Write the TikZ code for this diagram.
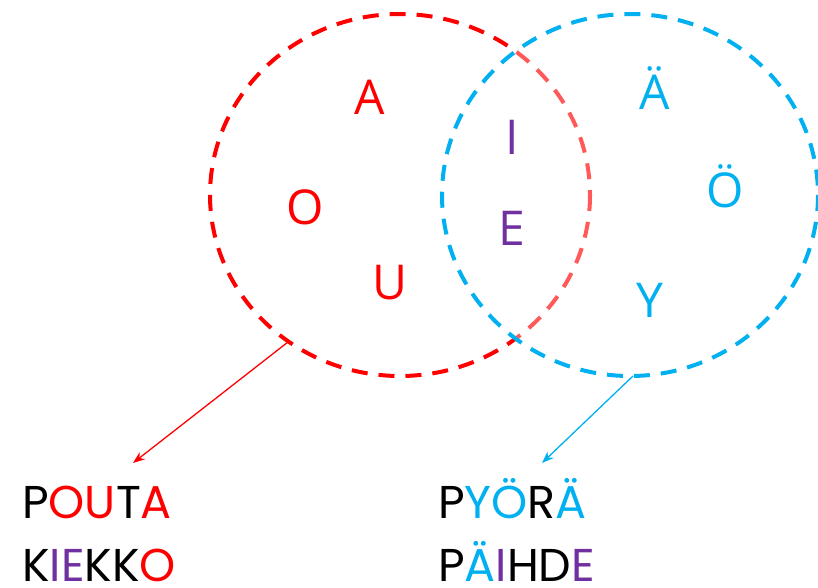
\documentclass[tikz,border=0pt]{standalone}
\usepackage{fontspec}
\setmainfont{Open Sans}
\newfontfamily\wordfont{Poppins}
\usetikzlibrary{arrows.meta}
\definecolor{vred}{HTML}{FF0000}
\definecolor{vblue}{HTML}{00B0F0}
\definecolor{vpurple}{HTML}{7030A0}
\tikzset{
  setline/.style={line width=4pt, dash pattern=on 16pt off 11pt},
  letter/.style={font=\fontsize{48}{48}\selectfont, inner sep=0pt},
  word/.style={font=\wordfont\fontsize{46}{46}\selectfont, inner sep=0pt, text depth=0pt, anchor=base west},
  pointer/.style={line width=1.3pt, -{Stealth[length=12pt,width=9pt]}}
}
\begin{document}
\begin{tikzpicture}[x=1pt,y=-1pt]
\useasboundingbox (0,0) rectangle (818,588);
% circles
\draw[setline, vred] (400,195) ellipse [x radius=190, y radius=181];
\fill[white, opacity=0.35] (630,195) ellipse [x radius=188, y radius=181];
\draw[setline, vblue] (630,195) ellipse [x radius=188, y radius=181];
% letters
\node[letter, text=vred] (la) at (370,97) {A};
\node[letter, text=vred] (lo) at (305,207) {O};
\node[letter, text=vred] (lu) at (390,283) {U};
\node[letter, text=vpurple] (li) at (512,137) {I};
\node[letter, text=vpurple] (le) at (512,228) {E};
\node[letter, text=vblue] (lae) at (655,88) {Ä};
\node[letter, text=vblue] (loe) at (725,186) {Ö};
\node[letter, text=vblue] (ly) at (650,300) {Y};
% words
\node[word] (pouta) at (22,518) {P\textcolor{vred}{OU}T\textcolor{vred}{A}};
\node[word] (kiekko) at (22,581) {K\textcolor{vpurple}{IE}KK\textcolor{vred}{O}};
\node[word] (pyora) at (438,518) {P\textcolor{vblue}{YÖ}R\textcolor{vblue}{Ä}};
\node[word] (paihde) at (438,581) {P\textcolor{vblue}{Ä}\textcolor{vpurple}{I}HD\textcolor{vpurple}{E}};
% arrows
\coordinate (redstart) at (288,342);
\coordinate (redend) at (133,463);
\coordinate (bluestart) at (633,376);
\coordinate (blueend) at (542,463);
\draw[pointer, vred] (redstart) -- (redend);
\draw[pointer, vblue] (bluestart) -- (blueend);
\end{tikzpicture}
\end{document}
